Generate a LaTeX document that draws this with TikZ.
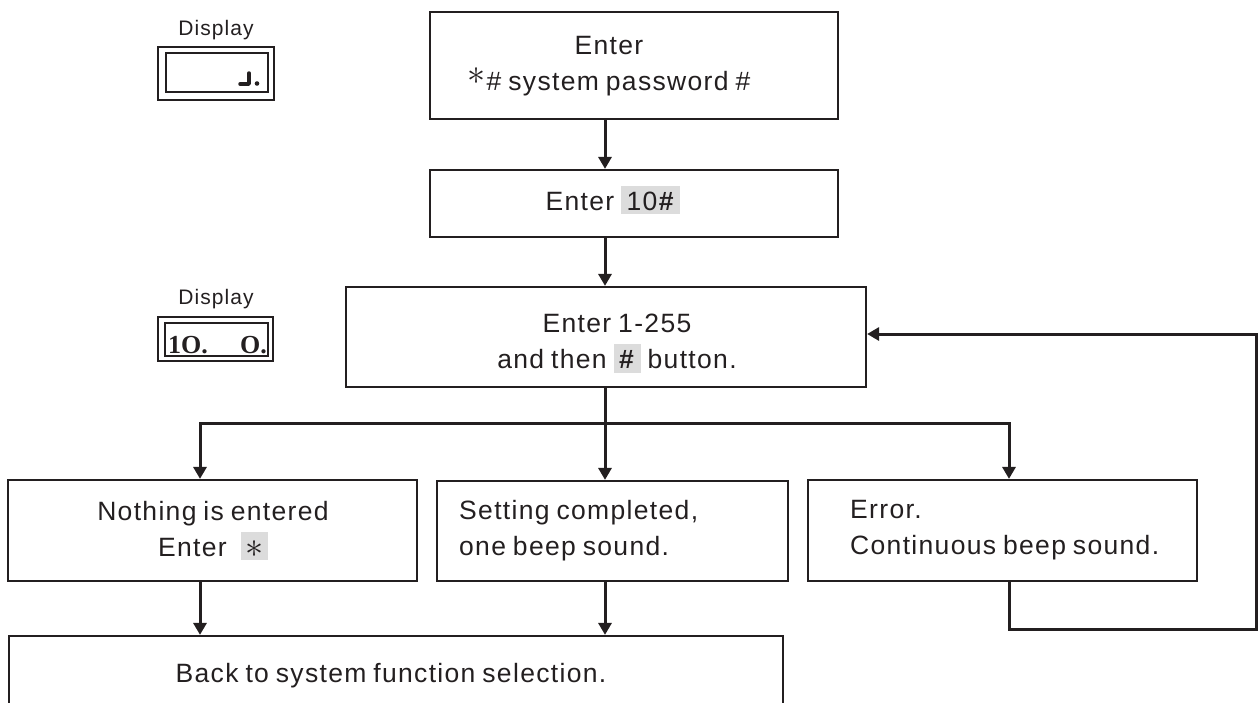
\documentclass[tikz,border=0pt]{standalone}
\usepackage{graphicx}
\usepackage{fontspec}
\setmainfont{Liberation Sans}[LetterSpace=5,WordSpace=0.8]
\newfontfamily\segfont{Liberation Serif}
\usetikzlibrary{arrows.meta}
\definecolor{ink}{HTML}{231F20}
\definecolor{keygray}{HTML}{DCDCDC}
% grey key-cap highlight behind a key name
\newcommand\keycap[1]{{\setlength{\fboxsep}{0pt}\colorbox{keygray}{\rule[-4pt]{0pt}{28.5pt}\hspace{5.5pt}#1\hspace{5.5pt}}}}
% enlarged asterisk operator, raised by #1
\newcommand\bigstar[1]{\raisebox{#1}{\scalebox{1.45}{$\ast$}}}
\tikzset{
  box/.style={draw=ink, line width=2.2pt, inner sep=0pt},
  txt/.style={inner sep=0pt, text=ink, font=\fontsize{26.5}{36}\selectfont},
  lbl/.style={inner sep=0pt, text=ink, font=\fontsize{21}{25}\selectfont},
  seg/.style={inner sep=0pt, text=ink, font=\segfont\bfseries\fontsize{26}{30}\selectfont},
  dispout/.style={draw=ink, line width=2.2pt, inner sep=0pt},
  dispin/.style={draw=ink, line width=1.2pt, inner sep=0pt},
  wire/.style={draw=ink, line width=3pt},
  flow/.style={draw=ink, line width=3pt, -{Triangle[length=12pt,width=13pt]}},
}
\begin{document}
\begin{tikzpicture}[x=1pt,y=-1pt]
\useasboundingbox (0,0) rectangle (1259,702);

% display windows
\node[lbl, anchor=base] (lab1) at (216,35) {Display};
\node[dispout, minimum width=116pt, minimum height=53pt] (disp1) at (216,73.5) {};
\node[dispin, minimum width=102pt, minimum height=39pt] (disp1in) at (217,72.5) {};
\draw[ink, line width=3.5pt, line cap=round, line join=round] (249,73) -- (249,84) -- (240,84);
\fill[ink] (257,83.5) circle (2.3pt);

\node[lbl, anchor=base] (lab2) at (216,304) {Display};
\node[dispout, minimum width=115pt, minimum height=44pt] (disp2) at (215.5,339) {};
\node[dispin, minimum width=103pt, minimum height=33pt] (disp2in) at (216.5,339.5) {};
\node[seg, anchor=base west] (seg1) at (168,353) {1O.};
\node[seg, anchor=base west] (seg2) at (240,353) {O.};

% process boxes
\node[box, minimum width=408pt, minimum height=107pt] (pw) at (634,65.5) {};
\node[txt, align=center] (pwtxt) at (609,66) {Enter\\\bigstar{6pt}\kern1pt\#~system password \#};

\node[box, minimum width=408pt, minimum height=67pt] (ten) at (634,203.5) {};
\node[txt, anchor=base] (tentxt) at (613,210) {Enter \keycap{10\textbf{\#}}};

\node[box, minimum width=520pt, minimum height=100pt] (sel) at (606,337) {};
\node[txt, align=center] (seltxt) at (617,343.5) {Enter 1-255\\and then \keycap{\textbf{\#}} button.};

\node[box, minimum width=409pt, minimum height=101pt] (none) at (212.5,530.5) {};
\node[txt, align=center] (nonetxt) at (213,530.75) {Nothing is entered\\Enter\hspace{14pt}\keycap{\kern-1pt\bigstar{-1pt}\kern-1pt}};

\node[box, minimum width=351pt, minimum height=100pt] (set) at (612.5,531) {};
\node[txt, align=left, anchor=west] (settxt) at (459,531) {Setting completed,\\one beep sound.};

\node[box, minimum width=389pt, minimum height=101pt] (err) at (1002.5,530.5) {};
\node[txt, align=left, anchor=west] (errtxt) at (850,530.25) {Error.\\Continuous beep sound.};

\node[box, minimum width=774pt, minimum height=74pt] (back) at (396,673) {};
\node[txt, anchor=base] (backtxt) at (391,682) {Back to system function selection.};

% connectors
\coordinate (spine) at (605,0);
\coordinate (bl) at (200,423);
\coordinate (bm) at (605,423);
\coordinate (br) at (1009,423);
\coordinate (lpb) at (1256,629);
\coordinate (lpt) at (1256,334);

\draw[flow] (pw.south -| spine) -- (ten.north -| spine);
\draw[flow] (ten.south -| spine) -- (sel.north -| spine);
\draw[wire] (sel.south -| spine) -- (bm);
\draw[flow] (bm) -- (bl) -- (none.north -| bl);
\draw[flow] (bm) -- (br) -- (err.north -| br);
\draw[flow] (bm) -- (set.north -| bm);
\draw[flow] (none.south -| bl) -- (back.north -| bl);
\draw[flow] (set.south -| bm) -- (back.north -| bm);
\draw[flow] (err.south -| br) |- (lpb) -- (lpt) -- (sel.east |- lpt);
\end{tikzpicture}
\end{document}
